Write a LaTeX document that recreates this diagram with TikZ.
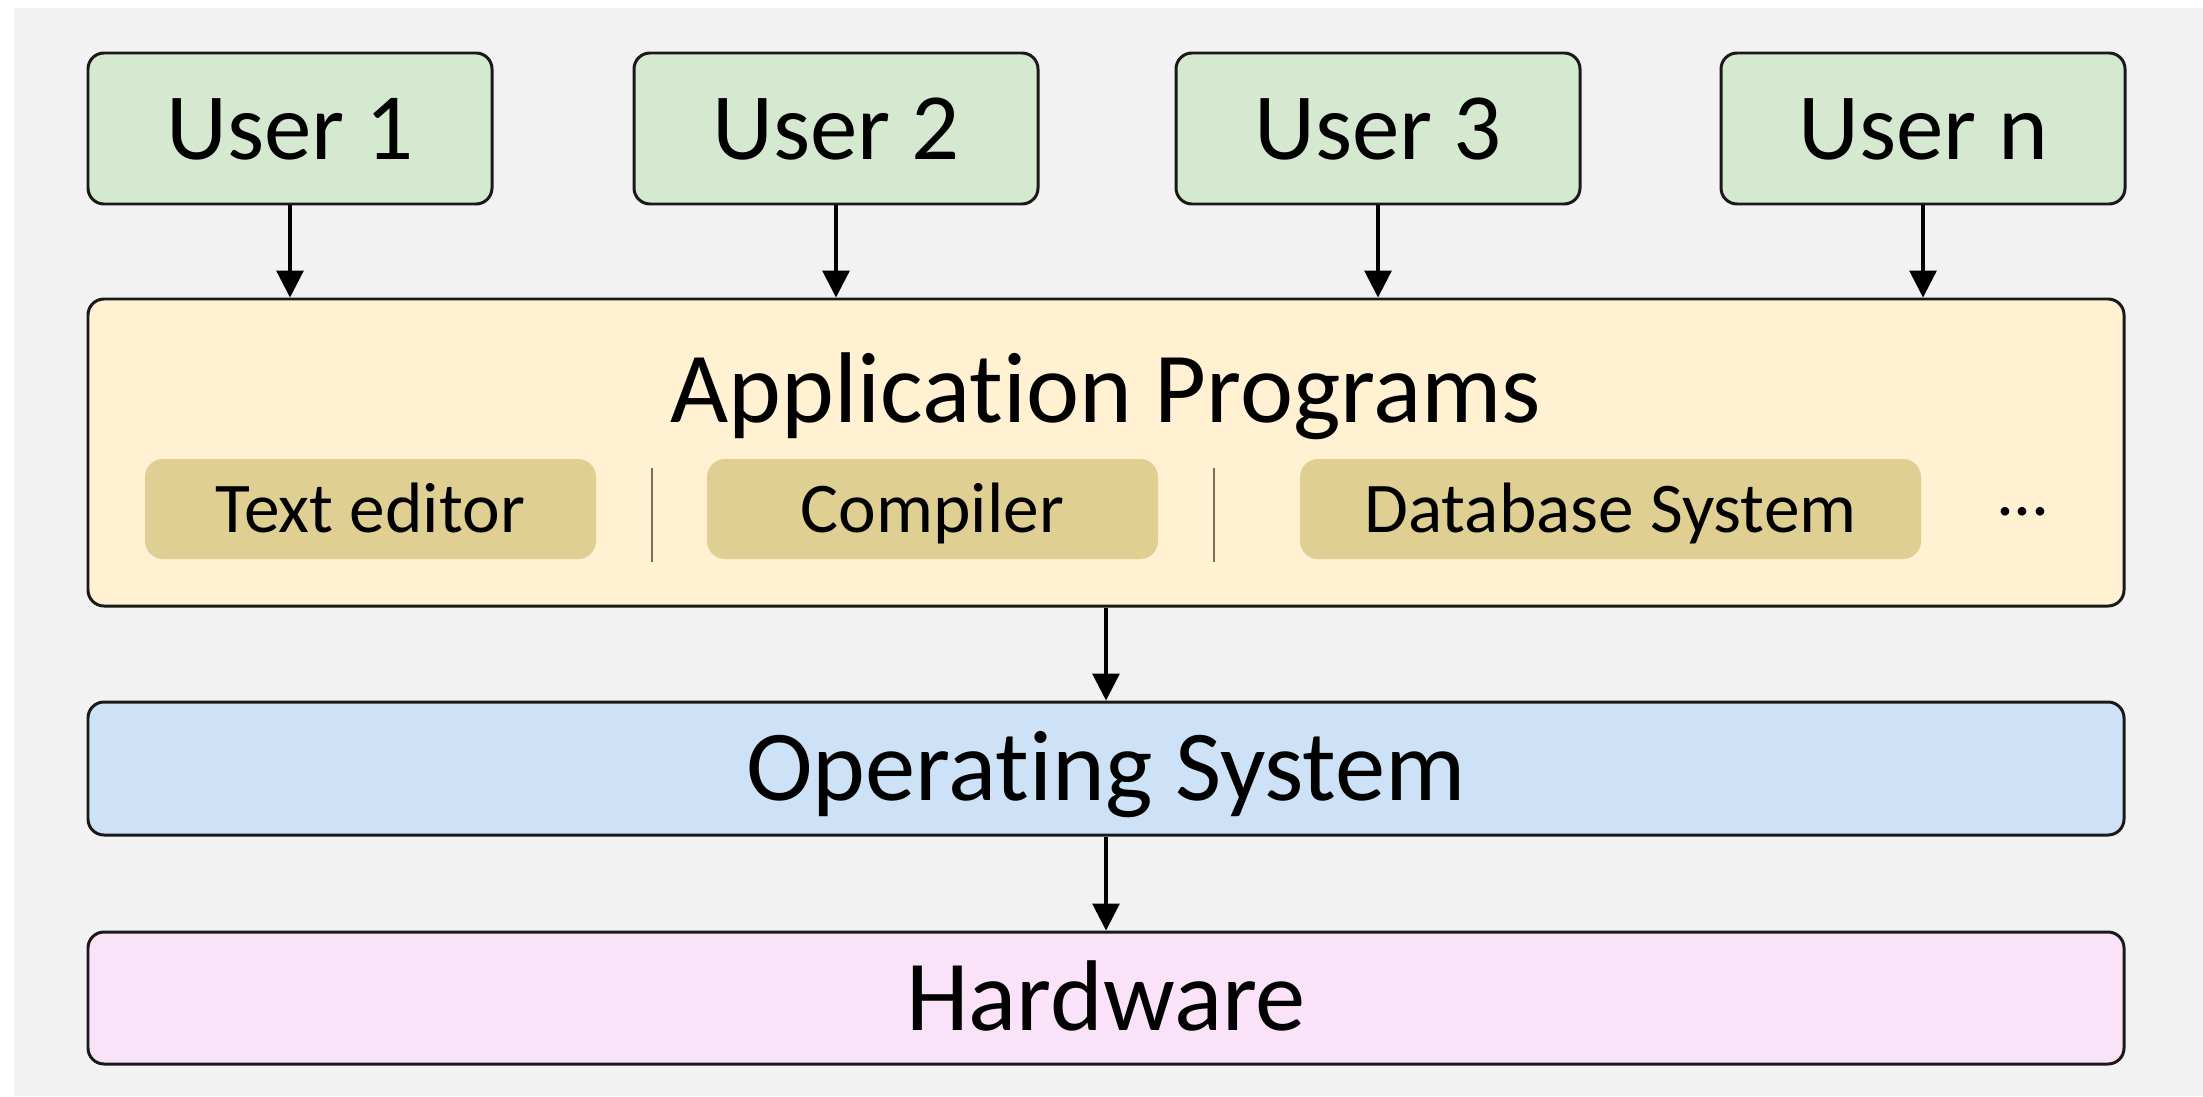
\documentclass[tikz,border=0pt]{standalone}
\usepackage{fontspec}
\setmainfont{Carlito}[Ligatures=NoCommon]
\usetikzlibrary{arrows.meta}
\definecolor{bggray}{HTML}{F2F2F2}
\definecolor{usergreen}{HTML}{D5E8D0}
\definecolor{appyellow}{HTML}{FFF1D2}
\definecolor{progtan}{HTML}{DFCF92}
\definecolor{osblue}{HTML}{CDE2F6}
\definecolor{hwpink}{HTML}{FAE3F8}
\definecolor{sepbrown}{HTML}{7D6E55}

\begin{document}
\begin{tikzpicture}[
    box/.style={draw=black!90, line width=0.85pt, rounded corners=0.16cm},
    usertext/.style={font=\fontsize{27}{29}\selectfont, text height=17.4pt, text depth=0pt},
    bigtext/.style={font=\fontsize{28.6}{31}\selectfont, text height=18.4pt, text depth=0pt},
    smalltext/.style={font=\fontsize{20.3}{22}\selectfont, text height=13.1pt, text depth=0pt},
    user/.style={box, usertext, fill=usergreen, minimum width=4.04cm, minimum height=1.51cm},
    layer/.style={box, bigtext, minimum width=20.36cm},
    prog/.style={smalltext, fill=progtan, rounded corners=0.18cm, minimum height=1.0cm},
    arr/.style={-{Triangle[length=0.27cm, width=0.27cm]}, line width=0.9pt}
]
    \fill[bggray] (0.14,0) rectangle (22.03,10.88);
    \useasboundingbox (0,0) rectangle (22.03,10.96);

    \node[user] (U1) at (2.90,9.675) {User 1};
    \node[user] (U2) at (8.36,9.675) {User 2};
    \node[user] (U3) at (13.78,9.675) {User 3};
    \node[user] (Un) at (19.23,9.675) {User n};

    \node[layer, fill=appyellow, minimum height=3.07cm] (App) at (11.06,6.435) {};
    \node[bigtext] (AppT) at (11.06,7.06) {Application Programs};

    \node[prog, minimum width=4.51cm] (P1) at (3.705,5.87) {Text editor};
    \node[prog, minimum width=4.51cm] (P2) at (9.325,5.87) {Compiler};
    \node[prog, minimum width=6.21cm] (P3) at (16.105,5.87) {Database System};
    \node[smalltext] (P4) at (20.23,6.04) {...};

    \draw[sepbrown, line width=0.8pt] (6.52,6.28) -- (6.52,5.34);
    \draw[sepbrown, line width=0.8pt] (12.14,6.28) -- (12.14,5.34);

    \node[layer, fill=osblue, minimum height=1.33cm] (OS) at (11.06,3.275) {Operating System};
    \node[layer, fill=hwpink, minimum height=1.32cm] (HW) at (11.06,0.98) {Hardware};

    \draw[arr] (U1) -- (U1 |- App.north);
    \draw[arr] (U2) -- (U2 |- App.north);
    \draw[arr] (U3) -- (U3 |- App.north);
    \draw[arr] (Un) -- (Un |- App.north);

    \draw[arr] (App.south) -- (OS.north);
    \draw[arr] (OS.south) -- (HW.north);
\end{tikzpicture}
\end{document}
